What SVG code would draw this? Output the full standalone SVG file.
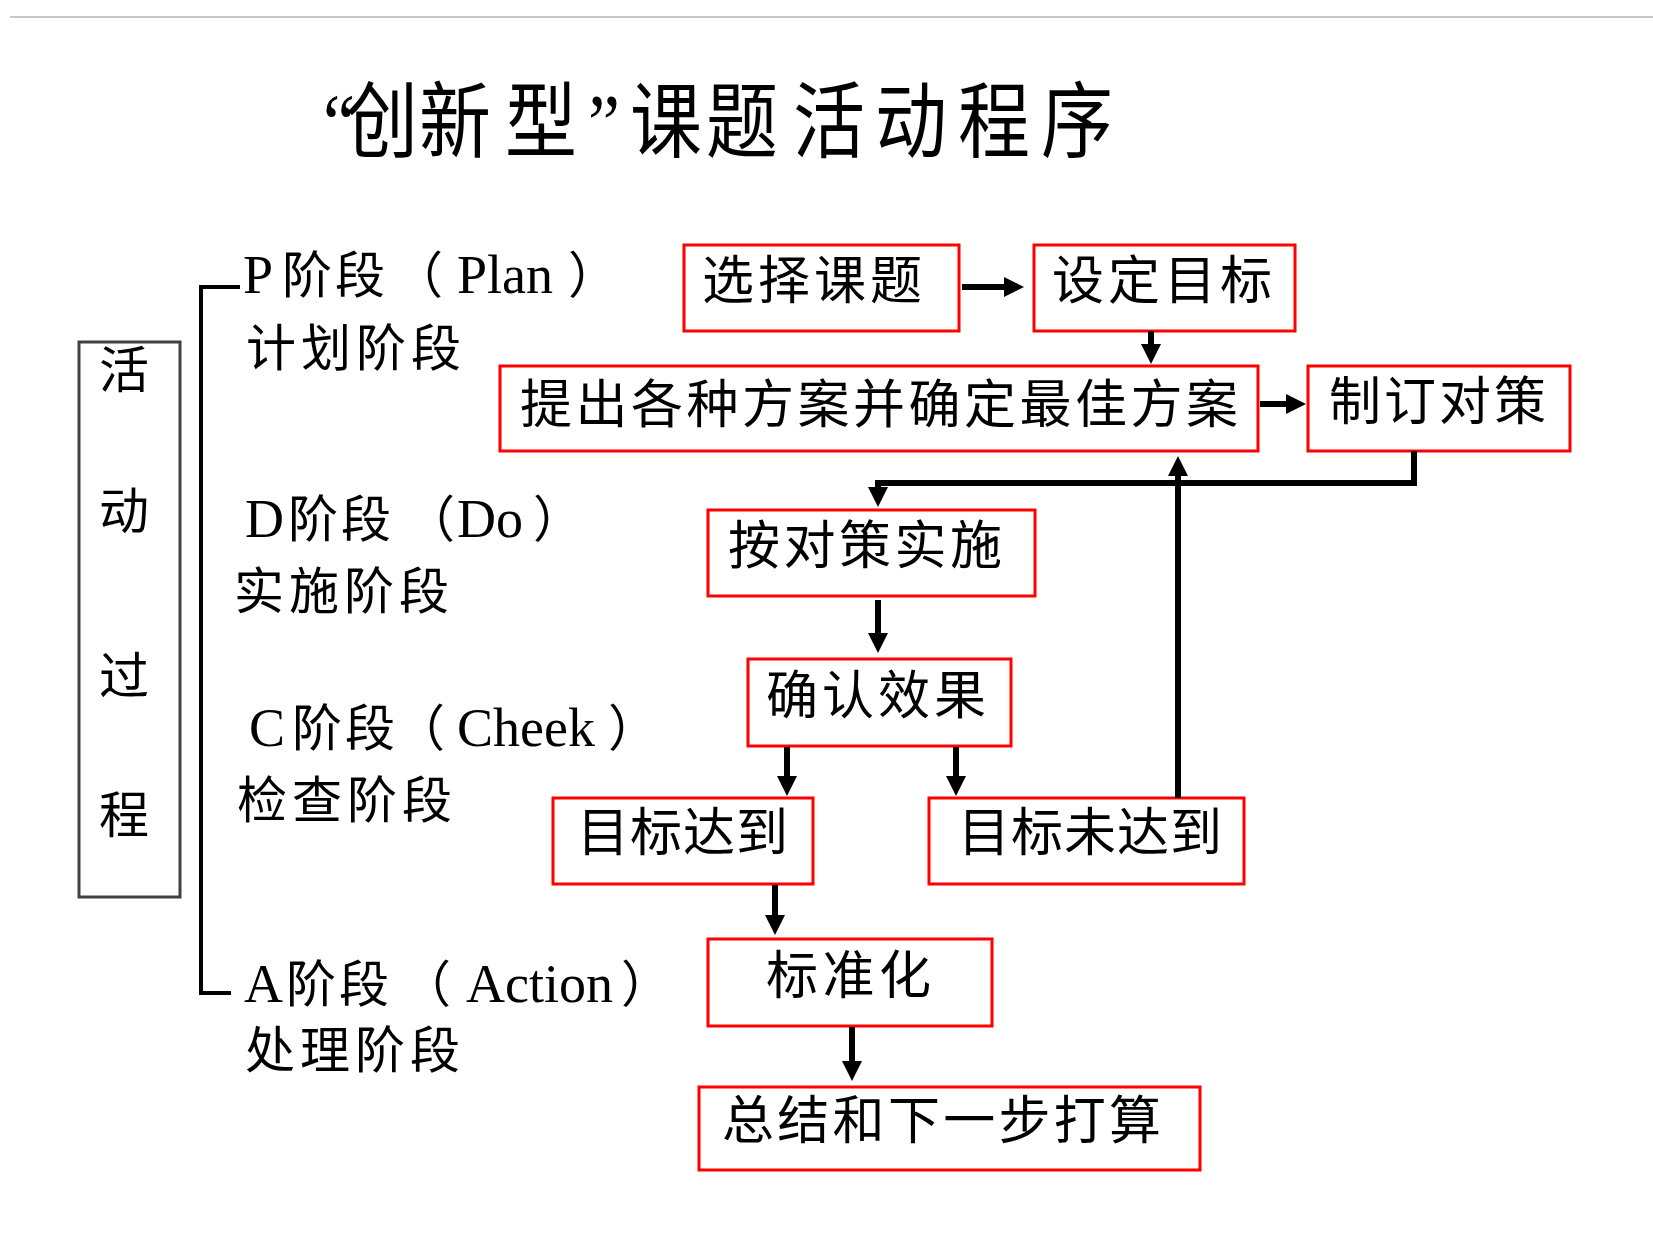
<svg xmlns="http://www.w3.org/2000/svg" width="1653" height="1256" viewBox="0 0 1653 1256">
<defs>
<style>
.cjk{font-family:"Noto Sans CJK SC","Noto Sans CJK TC",sans-serif;fill:#000}
.lat{font-family:"Liberation Serif","Noto Sans CJK SC",serif;fill:#000}
.box{fill:#fff;stroke:#ff0000;stroke-width:3}
.bt{font-family:"Noto Sans CJK SC",sans-serif;font-size:52px;fill:#000}
.lt{font-family:"Noto Sans CJK SC",sans-serif;font-size:50px;fill:#000;letter-spacing:5px}
.arr{fill:none;stroke:#000;stroke-width:6;marker-end:url(#ah)}
</style>
<marker id="ah" markerUnits="userSpaceOnUse" markerWidth="22" markerHeight="22" refX="1" refY="10" orient="auto">
<path d="M0,0 L20,10 L0,20 z" fill="#000"/>
</marker>
</defs>
<rect x="0" y="0" width="1653" height="1256" fill="#fff"/>
<line x1="10" y1="17" x2="1653" y2="17" stroke="#c8c8c8" stroke-width="2"/>

<g id="title" transform="translate(0,151) scale(1,1.15)">
<text class="lat" font-size="72" x="323" y="0">“</text>
<text class="cjk" font-size="72" x="346 419" y="0">创新</text>
<text class="cjk" font-size="72" x="505" y="0">型</text>
<text class="lat" font-size="72" x="588" y="0">”</text>
<text class="cjk" font-size="72" x="630 706 793 875 958 1041" y="0">课题活动程序</text>
</g>

<g id="process-box">
<rect x="79" y="342" width="101" height="555" fill="none" stroke="#404040" stroke-width="3"/>
<text class="cjk" font-size="50" text-anchor="middle" x="124" y="388">活</text>
<text class="cjk" font-size="50" text-anchor="middle" x="124" y="529">动</text>
<text class="cjk" font-size="50" text-anchor="middle" x="124" y="694">过</text>
<text class="cjk" font-size="50" text-anchor="middle" x="124" y="833">程</text>
</g>

<g id="bracket">
<path d="M240,287 H201 V993 H231" fill="none" stroke="#000" stroke-width="4"/>
</g>

<g id="phase-p">
<text y="293"><tspan class="lat" font-size="54" x="243">P</tspan><tspan class="cjk" font-size="50" x="282" letter-spacing="3">阶段</tspan><tspan class="cjk" font-size="50" x="393">（</tspan><tspan class="lat" font-size="54" x="457">Plan</tspan><tspan class="cjk" font-size="50" x="568">）</tspan></text>
<text class="lt" x="246" y="366">计划阶段</text>
</g>
<g id="phase-d">
<text y="537"><tspan class="lat" font-size="54" x="245">D</tspan><tspan class="cjk" font-size="50" x="288" letter-spacing="3">阶段</tspan><tspan class="cjk" font-size="50" x="405">（</tspan><tspan class="lat" font-size="54" x="457">Do</tspan><tspan class="cjk" font-size="50" x="533">）</tspan></text>
<text class="lt" x="234" y="609">实施阶段</text>
</g>
<g id="phase-c">
<text y="746"><tspan class="lat" font-size="54" x="249">C</tspan><tspan class="cjk" font-size="50" x="292" letter-spacing="3">阶段</tspan><tspan class="cjk" font-size="50" x="395">（</tspan><tspan class="lat" font-size="54" x="457">Cheek</tspan><tspan class="cjk" font-size="50" x="608">）</tspan></text>
<text class="lt" x="237" y="818">检查阶段</text>
</g>
<g id="phase-a">
<text y="1002"><tspan class="lat" font-size="54" x="244">A</tspan><tspan class="cjk" font-size="50" x="286" letter-spacing="3">阶段</tspan><tspan class="cjk" font-size="50" x="401">（</tspan><tspan class="lat" font-size="54" x="466">Action</tspan><tspan class="cjk" font-size="50" x="621">）</tspan></text>
<text class="lt" x="245" y="1068">处理阶段</text>
</g>

<g id="n-select"><rect class="box" x="684" y="245" width="275" height="86"/><text class="bt" x="702" y="299" letter-spacing="4">选择课题</text></g>
<g id="n-target"><rect class="box" x="1034" y="245" width="261" height="86"/><text class="bt" x="1052" y="299" letter-spacing="4">设定目标</text></g>
<g id="n-plan"><rect class="box" x="500" y="366" width="758" height="85"/><text class="bt" x="520" y="423" letter-spacing="3.5">提出各种方案并确定最佳方案</text></g>
<g id="n-measure"><rect class="box" x="1308" y="366" width="262" height="85"/><text class="bt" x="1329" y="420" letter-spacing="3">制订对策</text></g>
<g id="n-do"><rect class="box" x="708" y="510" width="327" height="86"/><text class="bt" x="728" y="564" letter-spacing="3.5">按对策实施</text></g>
<g id="n-check"><rect class="box" x="748" y="659" width="263" height="87"/><text class="bt" x="766" y="714" letter-spacing="4">确认效果</text></g>
<g id="n-ok"><rect class="box" x="553" y="798" width="260" height="86"/><text class="bt" x="577" y="851" letter-spacing="1">目标达到</text></g>
<g id="n-fail"><rect class="box" x="929" y="798" width="315" height="86"/><text class="bt" x="958" y="851" letter-spacing="1">目标未达到</text></g>
<g id="n-std"><rect class="box" x="708" y="939" width="284" height="87"/><text class="bt" x="766" y="994" letter-spacing="4.5">标准化</text></g>
<g id="n-sum"><rect class="box" x="699" y="1087" width="501" height="83"/><text class="bt" x="722" y="1139" letter-spacing="3.3">总结和下一步打算</text></g>

<g id="connectors">
<line class="arr" x1="962" y1="287" x2="1005" y2="287"/>
<line class="arr" x1="1151" y1="331" x2="1151" y2="345"/>
<line class="arr" x1="1260" y1="404" x2="1287" y2="404"/>
<polyline class="arr" stroke-width="7" points="1414,451 1414,483 878,483 878,488"/>
<line class="arr" x1="1178" y1="798" x2="1178" y2="475"/>
<line class="arr" x1="878" y1="600" x2="878" y2="634"/>
<line class="arr" x1="787" y1="747" x2="787" y2="777"/>
<line class="arr" x1="956" y1="747" x2="956" y2="777"/>
<line class="arr" x1="775" y1="885" x2="775" y2="916"/>
<line class="arr" x1="852" y1="1027" x2="852" y2="1062"/>
</g>
</svg>
